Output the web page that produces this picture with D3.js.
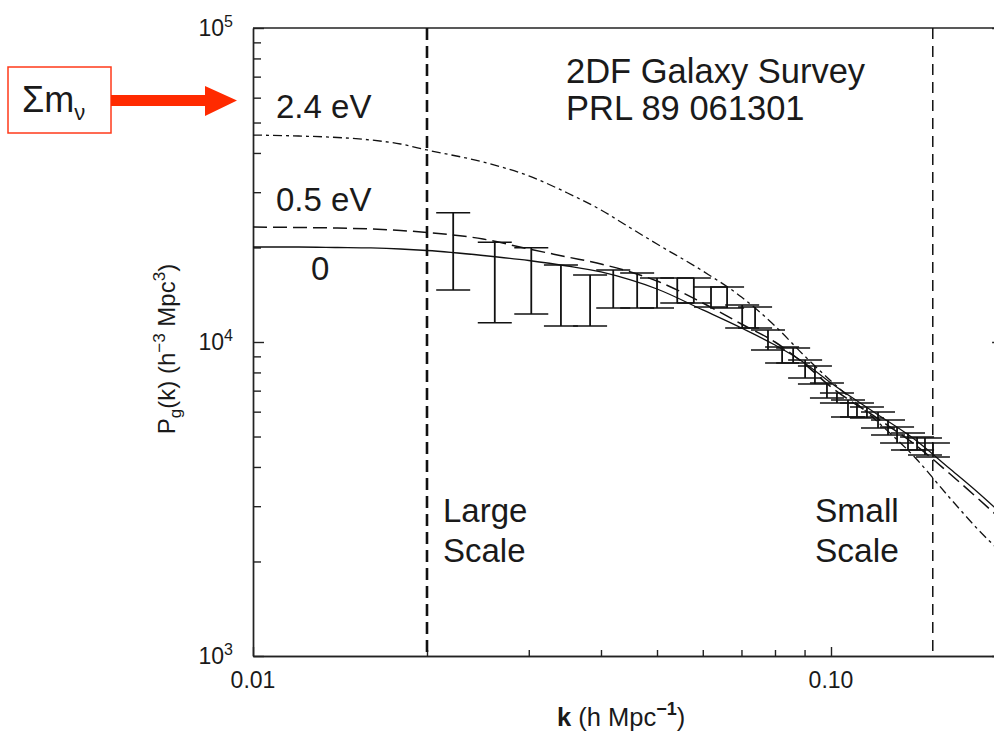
<!DOCTYPE html>
<html>
<head>
<meta charset="utf-8">
<script src="https://cdn.jsdelivr.net/npm/d3@7"></script>
<style>
  body { margin: 0; background: #fff; }
  svg { display: block; }
  text { font-family: "Liberation Sans", Arial, Helvetica, sans-serif; fill: #1a1a1a; }
</style>
</head>
<body>
<svg id="chart" width="994" height="732"></svg>
<script>
// model power spectra (k in h/Mpc, P in h^-3 Mpc^3)
const modelK = [0.010, 0.012, 0.014, 0.016, 0.018, 0.020, 0.025, 0.030, 0.035, 0.040, 0.045,
  0.050, 0.060, 0.070, 0.080, 0.090, 0.100, 0.120, 0.140, 0.160, 0.180, 0.200];
const pZero = [20070, 20070, 20000, 19930, 19780, 19560, 18860, 18180, 17460, 16710, 15760,
  14750, 12650, 11080, 9780, 8575, 7403, 5900, 4875, 3970, 3305, 2772];
const pHalf = [23240, 23160, 23070, 22900, 22650, 22320, 21280, 19780, 18650, 17720, 16710,
  15640, 13310, 11410, 10000, 8510, 7190, 5730, 4700, 3825, 3162, 2652];
const pTwoFour = [45620, 45290, 44800, 43980, 42710, 40880, 37430, 33790, 29820, 26330, 23070,
  20510, 16830, 13910, 11250, 9030, 7510, 5604, 4272, 3210, 2519, 2082];

// 2dF error bars: k, upper and lower end
const dataK = [0.0222, 0.0262, 0.0303, 0.0341, 0.0383, 0.0420, 0.0462, 0.0500, 0.0542, 0.0579,
  0.0620, 0.0661, 0.0702, 0.0739, 0.0778, 0.0823, 0.0860, 0.0902, 0.0938, 0.0984, 0.1024,
  0.1070, 0.1109, 0.1154, 0.1206, 0.1255, 0.1301, 0.1359, 0.1409, 0.1454, 0.1501];
const dataHi = [25810, 20770, 19970, 17590, 16350, 16960, 16590, 15990, 15990, 15990,
  14970, 14970, 13120, 12930, 10920, 9640, 9570, 8765, 8386, 7403, 6880,
  6535, 6394, 6209, 5986, 5645, 5361, 5131, 4983, 4946, 4768];
const dataLo = [14640, 11520, 12280, 11250, 11250, 12830, 12830, 12830, 13310, 13310,
  12930, 12830, 11080, 11080, 9430, 8575, 8575, 7680, 7350, 6632, 6394,
  5769, 5769, 5730, 5322, 5055, 4768, 4530, 4530, 4366, 4303];

const scaleCuts = [0.02, 0.15];
const yMajor = [1e3, 1e4, 1e5];
const yExp = ['3', '4', '5'];
const xMajor = [0.01, 0.1];
const xMajorLabels = ['0.01', '0.10'];

const svg = d3.select('#chart');
const kMax = 0.1985;
const decade = 578;
const box = { left: 253, right: 253 + decade * Math.log10(kMax / 0.01), top: 28, bottom: 656 };

const x = d3.scaleLog().domain([0.01, kMax]).range([box.left, box.right]);
const y = d3.scaleLog().domain([1e3, 1e5]).range([box.bottom, box.top]);

const minorX = [];
[0.01, 0.1].forEach(d => { for (let i = 2; i <= 9; i++) if (d * i <= kMax) minorX.push(d * i); });
const minorY = [];
[1e3, 1e4].forEach(d => { for (let i = 2; i <= 9; i++) minorY.push(d * i); });

// frame
svg.append('line').attr('x1', box.left).attr('x2', box.right).attr('y1', box.top).attr('y2', box.top)
  .attr('stroke', '#222').attr('stroke-width', 1.4);

const axis = (gen, tx, ty, vals, size) => {
  const g = svg.append('g').attr('transform', `translate(${tx},${ty})`)
    .call(gen.tickValues(vals).tickSize(size).tickSizeOuter(0).tickFormat(''));
  g.selectAll('path, line').attr('stroke', '#222').attr('stroke-width', 1.4);
  return g;
};
axis(d3.axisRight(y), box.left, 0, minorY, 8);
axis(d3.axisRight(y), box.left, 0, yMajor, 11);
axis(d3.axisLeft(y), box.right, 0, minorY, 8);
axis(d3.axisLeft(y), box.right, 0, yMajor, 11);
axis(d3.axisTop(x), 0, box.bottom, minorX, 6);
axis(d3.axisTop(x), 0, box.bottom, xMajor, 9);

// tick labels
const yl = svg.append('g').selectAll('text').data(yMajor).join('text')
  .attr('x', 233).attr('y', d => y(d) + 8)
  .attr('text-anchor', 'end').attr('font-size', 23);
yl.append('tspan').text('10');
yl.append('tspan').attr('dy', -9).attr('font-size', 16).text((d, i) => yExp[i]);

svg.append('g').selectAll('text').data(xMajor).join('text')
  .attr('x', d => x(d)).attr('y', 688)
  .attr('text-anchor', 'middle').attr('font-size', 23)
  .text((d, i) => xMajorLabels[i]);

// axis titles
const xt = svg.append('text').attr('x', 557).attr('y', 726).attr('font-size', 25.5);
xt.append('tspan').attr('font-weight', 'bold').text('k');
xt.append('tspan').text(' (h Mpc');
xt.append('tspan').attr('font-weight', 'bold').attr('font-size', 18).attr('dy', -11).text('\u22121');
xt.append('tspan').attr('dy', 11).text(')');

const ytl = svg.append('text').attr('transform', 'translate(175,349) rotate(-90)')
  .attr('text-anchor', 'middle').attr('font-size', 24);
ytl.append('tspan').text('P');
ytl.append('tspan').attr('font-size', 17).attr('dy', 6).text('g');
ytl.append('tspan').attr('dy', -6).text('(k) (h');
ytl.append('tspan').attr('font-size', 17).attr('dy', -10).text('\u22123');
ytl.append('tspan').attr('dy', 10).text(' Mpc');
ytl.append('tspan').attr('font-size', 17).attr('dy', -10).text('3');
ytl.append('tspan').attr('dy', 10).text(')');

// scale boundaries
svg.append('g').selectAll('line').data(scaleCuts).join('line')
  .attr('x1', d => x(d)).attr('x2', d => x(d)).attr('y1', box.top).attr('y2', box.bottom)
  .attr('stroke', '#111')
  .attr('stroke-width', (d, i) => (i === 0 ? 2.6 : 1.5))
  .attr('stroke-dasharray', (d, i) => (i === 0 ? '12,6' : '11,7'));

// model curves
const plot = svg.append('g');
const line = d3.line().x(d => x(d[0])).y(d => y(d[1])).curve(d3.curveMonotoneX);
const curves = [
  { p: pTwoFour, dash: '9,4,3,4', w: 1.3 },
  { p: pHalf, dash: '14,6', w: 1.5 },
  { p: pZero, dash: null, w: 1.3 },
];
curves.forEach(c => {
  plot.append('path')
    .attr('d', line(modelK.map((k, i) => [k, c.p[i]])))
    .attr('fill', 'none').attr('stroke', '#111').attr('stroke-width', c.w)
    .attr('stroke-dasharray', c.dash);
});

// error bars
const cap = 17;
const bars = plot.append('g').attr('stroke', '#111');
bars.selectAll('line.v').data(dataK).join('line').attr('class', 'v')
  .attr('x1', d => x(d)).attr('x2', d => x(d))
  .attr('y1', (d, i) => y(dataHi[i])).attr('y2', (d, i) => y(dataLo[i]))
  .attr('stroke-width', 1.8);
[dataHi, dataLo].forEach(arr => {
  bars.append('g').selectAll('line').data(dataK).join('line')
    .attr('x1', d => x(d) - cap).attr('x2', d => x(d) + cap)
    .attr('y1', (d, i) => y(arr[i])).attr('y2', (d, i) => y(arr[i]))
    .attr('stroke-width', 1.5);
});

// annotations
const notes = [
  { t: '2.4 eV', x: 276, y: 118, s: 33 },
  { t: '0.5 eV', x: 276, y: 211, s: 33 },
  { t: '0', x: 311, y: 280, s: 33 },
  { t: '2DF Galaxy Survey', x: 566, y: 83, s: 34.5 },
  { t: 'PRL 89 061301', x: 566, y: 120, s: 34.5 },
  { t: 'Large', x: 443, y: 522, s: 33 },
  { t: 'Scale', x: 443, y: 562, s: 33 },
  { t: 'Small', x: 815, y: 522, s: 33.5 },
  { t: 'Scale', x: 815, y: 562, s: 33.5 },
];
svg.append('g').selectAll('text').data(notes).join('text')
  .attr('x', d => d.x).attr('y', d => d.y).attr('font-size', d => d.s).text(d => d.t);

// sum of neutrino masses box with arrow
svg.append('rect').attr('x', 8).attr('y', 67).attr('width', 103).attr('height', 66)
  .attr('fill', '#fff').attr('stroke', '#ff3a1a').attr('stroke-width', 1.5);
const sm = svg.append('text').attr('x', 22).attr('y', 112).attr('font-size', 36);
sm.append('tspan').text('\u03a3m');
sm.append('tspan').attr('font-size', 22).attr('dy', 8).text('\u03bd');
svg.append('path')
  .attr('d', 'M111,95 L205,95 L205,86 L237,100.5 L205,116 L205,106 L111,106 Z')
  .attr('fill', '#ff2a00');
</script>
</body>
</html>
